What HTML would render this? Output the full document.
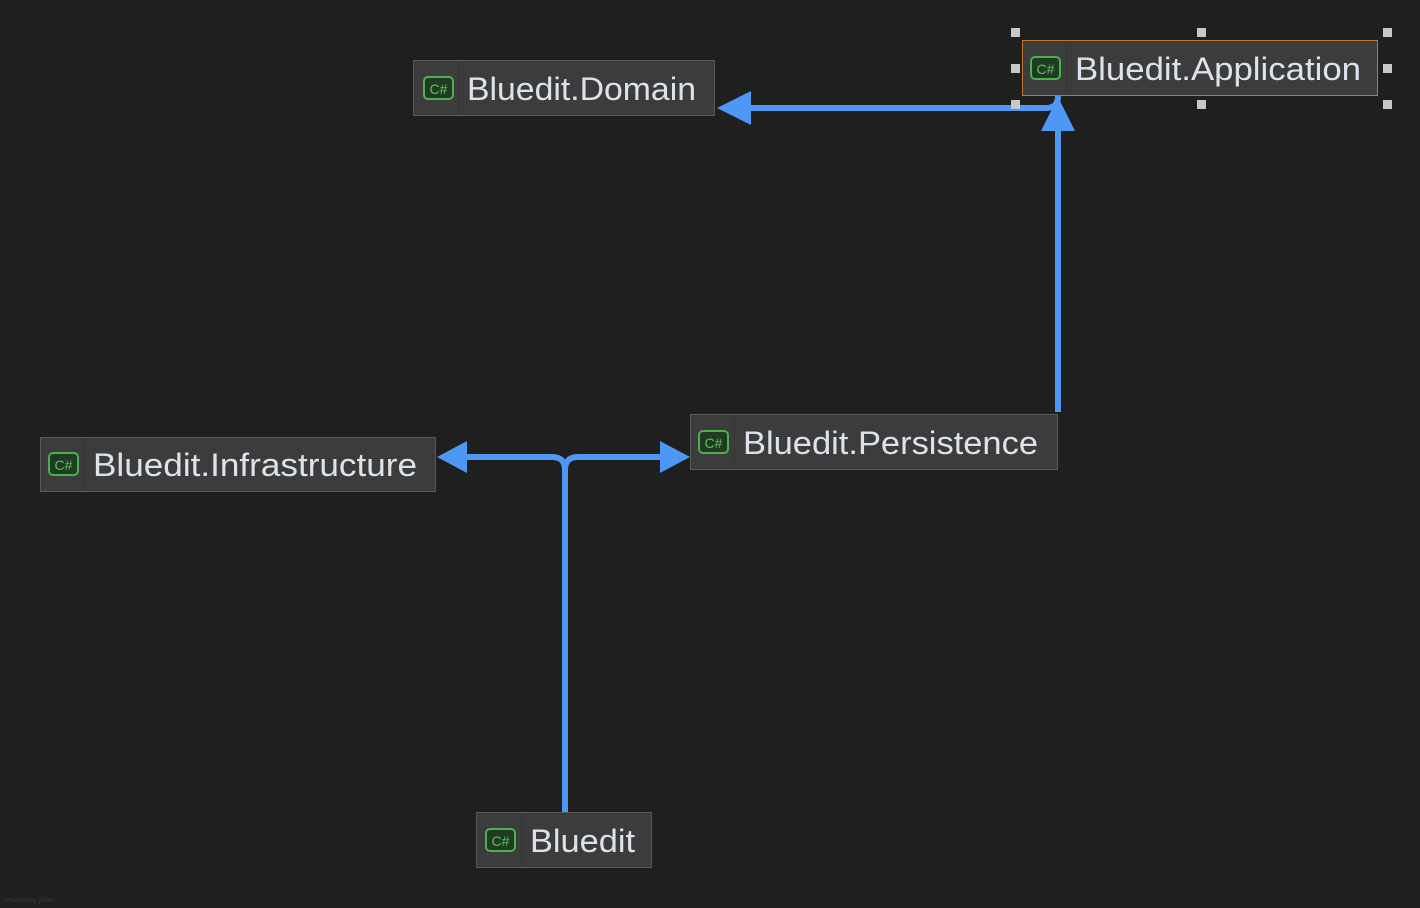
<!DOCTYPE html>
<html><head><meta charset="utf-8"><style>
html,body{margin:0;padding:0;background:#1f1f1f;width:1420px;height:908px;overflow:hidden}
svg{display:block}
text{font-family:"Liberation Sans",sans-serif}
</style></head><body>
<svg width="1420" height="908" viewBox="0 0 1420 908">
<rect width="1420" height="908" fill="#1f1f1f"/>
<g fill="none" stroke="#4f97f5" stroke-width="6">
<path d="M748,108 H1046 Q1058,108 1058,96"/>
<path d="M1058,412 V128"/>
<path d="M565,812 V470 Q565,457 552,457 H464"/>
<path d="M565,470 Q565,457 578,457 H662"/>
</g>
<g fill="#4f97f5">
<polygon points="717,108 751,91 751,125"/>
<polygon points="1058,97 1041,131 1075,131"/>
<polygon points="437,457 467,441 467,473"/>
<polygon points="690,457 660,441 660,473"/>
</g>
<g>
<rect x="413.5" y="60.5" width="301" height="55" fill="#3c3c3c" stroke="#5a5a5a"/>
<line x1="458.5" y1="61" x2="458.5" y2="115" stroke="#353535"/>
<rect x="424" y="77" width="29" height="22" rx="4" fill="#1f3b22" stroke="#4caf50" stroke-width="2"/>
<text x="438.5" y="94" font-size="14" fill="#5cc05f" text-anchor="middle">C#</text>
<text x="467" y="100" font-size="32" fill="#dde3ec" textLength="229" lengthAdjust="spacingAndGlyphs">Bluedit.Domain</text>

<rect x="1022.5" y="40.5" width="355" height="55" fill="#3c3c3c" stroke="#c7742c"/>
<line x1="1066.5" y1="41" x2="1066.5" y2="95" stroke="#353535"/>
<rect x="1031" y="57" width="29" height="22" rx="4" fill="#1f3b22" stroke="#4caf50" stroke-width="2"/>
<text x="1045.5" y="74" font-size="14" fill="#5cc05f" text-anchor="middle">C#</text>
<text x="1075" y="80" font-size="32" fill="#dde3ec" textLength="286" lengthAdjust="spacingAndGlyphs">Bluedit.Application</text>

<rect x="40.5" y="437.5" width="395" height="54" fill="#3c3c3c" stroke="#5a5a5a"/>
<line x1="84.5" y1="438" x2="84.5" y2="491" stroke="#353535"/>
<rect x="49" y="453" width="29" height="22" rx="4" fill="#1f3b22" stroke="#4caf50" stroke-width="2"/>
<text x="63.5" y="470" font-size="14" fill="#5cc05f" text-anchor="middle">C#</text>
<text x="93" y="476" font-size="32" fill="#dde3ec" textLength="324" lengthAdjust="spacingAndGlyphs">Bluedit.Infrastructure</text>

<rect x="690.5" y="414.5" width="367" height="55" fill="#3c3c3c" stroke="#5a5a5a"/>
<line x1="734.5" y1="415" x2="734.5" y2="469" stroke="#353535"/>
<rect x="699" y="431" width="29" height="22" rx="4" fill="#1f3b22" stroke="#4caf50" stroke-width="2"/>
<text x="713.5" y="448" font-size="14" fill="#5cc05f" text-anchor="middle">C#</text>
<text x="743" y="454" font-size="32" fill="#dde3ec" textLength="295" lengthAdjust="spacingAndGlyphs">Bluedit.Persistence</text>

<rect x="476.5" y="812.5" width="175" height="55" fill="#3c3c3c" stroke="#5a5a5a"/>
<line x1="521.5" y1="813" x2="521.5" y2="867" stroke="#353535"/>
<rect x="486" y="829" width="29" height="22" rx="4" fill="#1f3b22" stroke="#4caf50" stroke-width="2"/>
<text x="500.5" y="846" font-size="14" fill="#5cc05f" text-anchor="middle">C#</text>
<text x="530" y="852" font-size="32" fill="#dde3ec" textLength="105" lengthAdjust="spacingAndGlyphs">Bluedit</text>
</g>
<g fill="#c8c8c8">
<rect x="1011" y="28" width="9" height="9"/><rect x="1197" y="28" width="9" height="9"/><rect x="1383" y="28" width="9" height="9"/>
<rect x="1011" y="64" width="9" height="9"/><rect x="1383" y="64" width="9" height="9"/>
<rect x="1011" y="100" width="9" height="9"/><rect x="1197" y="100" width="9" height="9"/><rect x="1383" y="100" width="9" height="9"/>
</g>
<text x="5" y="902" font-size="6" fill="#3a3a3a">Powered by yFiles</text>
</svg>
</body></html>
